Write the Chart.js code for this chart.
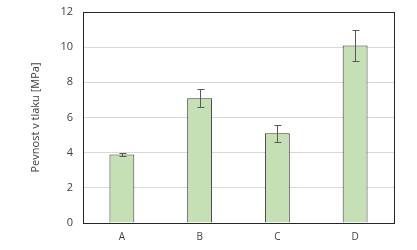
<!DOCTYPE html>
<html>
<head>
<meta charset="utf-8">
<script src="https://cdn.jsdelivr.net/npm/chart.js@4"></script>
<style>
  html, body { margin: 0; padding: 0; background: #fff; }
  #wrap { width: 417px; height: 250px; }
</style>
</head>
<body>
<div id="wrap"><canvas id="chart" width="417" height="250"></canvas></div>
<script>
const categories = ["A", "B", "C", "D"];
const strength = [3.9, 7.1, 5.1, 10.1];
const strengthErr = [0.1, 0.5, 0.5, 0.9];
const yTicks = [0, 2, 4, 6, 8, 10, 12];

const FONT = "'Open Sans', sans-serif";

// error bars + plot box
const extras = {
  id: "extras",
  beforeDatasetsDraw(chart) {
    const { ctx, chartArea: a } = chart;
    ctx.save();
    ctx.strokeStyle = "#262626";
    ctx.lineWidth = 1;
    ctx.strokeRect(Math.round(a.left) + 0.5, Math.round(a.top) + 0.5,
      Math.round(a.right - a.left), Math.round(a.bottom - a.top));
    ctx.restore();
  },
  afterDatasetsDraw(chart) {
    const { ctx } = chart;
    const y = chart.scales.y;
    const meta = chart.getDatasetMeta(0);
    ctx.save();
    ctx.strokeStyle = "#595959";
    ctx.lineWidth = 1;
    meta.data.forEach((bar, i) => {
      const x = Math.round(bar.x) + 0.5;
      const top = Math.round(y.getPixelForValue(strength[i] + strengthErr[i])) + 0.5;
      const bot = Math.round(y.getPixelForValue(strength[i] - strengthErr[i])) + 0.5;
      ctx.beginPath();
      ctx.moveTo(x, top); ctx.lineTo(x, bot);
      ctx.moveTo(x - 3, top); ctx.lineTo(x + 4, top);
      ctx.moveTo(x - 3, bot); ctx.lineTo(x + 4, bot);
      ctx.stroke();
    });
    ctx.restore();
  }
};

new Chart(document.getElementById("chart"), {
  type: "bar",
  data: {
    labels: categories,
    datasets: [{
      data: strength,
      backgroundColor: "#c5e0b4",
      borderColor: "#3a3a3a",
      borderWidth: 1,
      categoryPercentage: 1,
      barPercentage: 0.32
    }]
  },
  options: {
    responsive: false,
    animation: false,
    layout: { padding: { left: 29, right: 23, top: 12, bottom: 0 } },
    plugins: { legend: { display: false }, tooltip: { enabled: false } },
    scales: {
      x: {
        grid: { display: false, drawTicks: false },
        border: { display: false },
        ticks: { color: "#404040", font: { family: FONT, size: 10 }, padding: 8 },
        afterFit(s) { s.height = 27; }
      },
      y: {
        min: 0, max: 12,
        afterBuildTicks(s) { s.ticks = yTicks.map(v => ({ value: v })); },
        grid: { color: "#d9d9d9", drawTicks: false },
        border: { display: false },
        ticks: { color: "#404040", font: { family: FONT, size: 11 }, padding: 10 },
        title: {
          display: true,
          text: "Pevnost v tlaku [MPa]",
          color: "#404040",
          font: { family: FONT, size: 11 },
          padding: { top: 0, bottom: 0 }
        },
        afterFit(s) { s.width = 54; s.paddingTop = 0; s.paddingBottom = 0; }
      }
    }
  },
  plugins: [extras]
});
</script>
</body>
</html>
